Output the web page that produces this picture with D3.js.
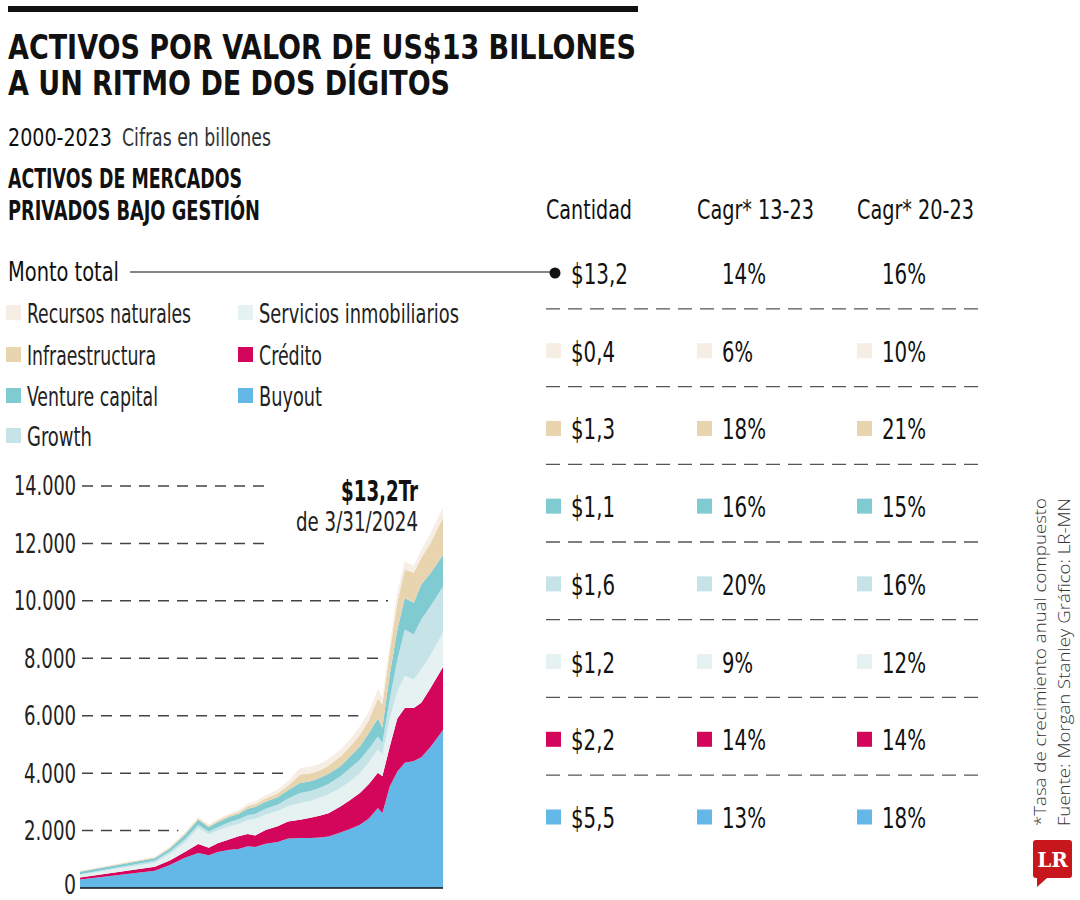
<!DOCTYPE html>
<html><head><meta charset="utf-8">
<script src="https://cdn.jsdelivr.net/npm/d3@7"></script>
<style>
body{margin:0;background:#fff}
svg{display:block}
text{font-family:"Liberation Sans Narrow","DejaVu Sans Condensed","Roboto",sans-serif;fill:#111}
</style>
</head><body>
<svg id="c" width="1080" height="900"></svg>
<script>
// ---------- DATA ----------
const dates = [2000.0,2005.0,2006.0,2007.0,2007.9,2008.6,2009.2,2010.0,2010.6,2011.2,2011.7,2012.4,2013.2,2013.9,2014.7,2015.4,2016.0,2016.6,2017.4,2018.0,2018.7,2019.3,2019.9,2020.2,2020.7,2021.2,2021.7,2022.3,2022.8,2023.4,2024.25];
const buyout   = [300,600,800,1050,1220,1140,1250,1330,1360,1450,1430,1540,1600,1720,1740,1740,1760,1790,1930,2050,2200,2420,2790,2610,3540,4060,4360,4420,4550,4900,5500];
const credito  = [70,140,160,200,310,260,310,370,440,430,400,480,550,600,640,710,760,810,910,1000,1110,1200,1220,1280,1400,1840,1910,1850,1900,2050,2200];
const inmobiliarios = [80,140,220,330,560,460,440,450,430,480,570,540,530,530,580,580,630,660,640,650,690,760,810,760,960,950,1110,990,1160,1150,1200];
const growth   = [30,70,90,110,110,110,120,150,160,170,180,200,220,270,350,350,330,360,410,450,470,470,460,400,700,1100,1620,1570,1740,1700,1600];
const venture  = [90,90,100,160,180,150,170,180,190,230,240,240,260,280,350,340,350,360,350,400,460,550,620,540,850,1050,1100,1100,1220,1150,1100];
const infra    = [15,30,40,40,40,50,50,60,70,90,100,120,130,160,290,280,260,280,340,350,410,450,700,800,800,950,990,1050,930,1050,1300];
const recursos = [15,20,30,50,50,40,50,60,70,90,100,110,130,160,230,230,230,240,240,250,290,300,330,240,300,350,290,230,280,350,350];

const seriesKeys   = ["Buyout","Crédito","Servicios inmobiliarios","Growth","Venture capital","Infraestructura","Recursos naturales"];
const seriesColors = ["#63b8e7","#d4065c","#e6f2f1","#c6e4e7","#80cad2","#e8d4ae","#f6eee4"];
const yTicks = [0,2000,4000,6000,8000,10000,12000,14000];

// table (order: total, recursos, infra, venture, growth, inmobiliarios, crédito, buyout)
const rowKeys     = ["Monto total","Recursos naturales","Infraestructura","Venture capital","Growth","Servicios inmobiliarios","Crédito","Buyout"];
const cantidad    = ["$13,2","$0,4","$1,3","$1,1","$1,6","$1,2","$2,2","$5,5"];
const cagr1323    = ["14%","6%","18%","16%","20%","9%","14%","13%"];
const cagr2023    = ["16%","10%","21%","15%","16%","12%","14%","18%"];
const headers     = ["Cantidad","Cagr* 13-23","Cagr* 20-23"];

// ---------- SETUP ----------
const svg = d3.select("#c");
const colorOf = d3.scaleOrdinal().domain(seriesKeys).range(seriesColors);
const fmt = d3.formatLocale({decimal:",",thousands:".",grouping:[3],currency:["$",""]}).format(",");

function txt(g, x, y, s, o={}) {
  const t = g.append("text").attr("x", x).attr("y", y).text(s)
    .style("font-size", (o.size||26)+"px")
    .style("font-weight", o.bold ? "700" : "400")
    .attr("text-anchor", o.anchor || "start");
  if (o.fill) t.style("fill", o.fill);
  if (o.family) t.style("font-family", o.family);
  if (o.w) t.attr("textLength", o.w).attr("lengthAdjust", "spacingAndGlyphs");
  return t;
}

// top rule
svg.append("rect").attr("x", 8).attr("y", 6).attr("width", 630).attr("height", 6).attr("fill", "#111");

// titles
txt(svg, 8, 59, "ACTIVOS POR VALOR DE US$13 BILLONES", {size:34, bold:true, w:628});
txt(svg, 8, 95, "A UN RITMO DE DOS DÍGITOS", {size:34, bold:true, w:442});
txt(svg, 8, 146, "2000-2023", {size:25, w:104});
txt(svg, 122, 146, "Cifras en billones", {size:25, w:149, fill:"#333"});
txt(svg, 8, 188, "ACTIVOS DE MERCADOS", {size:27, bold:true, w:234});
txt(svg, 8, 220, "PRIVADOS BAJO GESTIÓN", {size:27, bold:true, w:252});

// table headers
const colX = [546, 697, 857];
const headW = [86, 117, 117];
headers.forEach((h, i) => txt(svg, colX[i], 219, h, {size:27, w:headW[i]}));

// Monto total
txt(svg, 8, 281, "Monto total", {size:27, w:111});
svg.append("line").attr("x1", 130).attr("x2", 552).attr("y1", 272).attr("y2", 272).attr("stroke", "#111").attr("stroke-width", 1.2);
svg.append("circle").attr("cx", 555).attr("cy", 273).attr("r", 5.5).attr("fill", "#111");

// table rows
const rowY = d3.scaleLinear().domain([0, 7]).range([273, 817]);
const swColor = k => k === "Monto total" ? null : colorOf(k);
const charW = ch => ch === "$" ? 12 : ch === "," ? 6 : ch === "%" ? 18 : 13;
rowKeys.forEach((k, i) => {
  const cy = rowY(i);
  const vals = [cantidad[i], cagr1323[i], cagr2023[i]];
  vals.forEach((v, j) => {
    const c = swColor(k);
    if (c) svg.append("rect").attr("x", colX[j]).attr("y", cy - 7.5).attr("width", 15).attr("height", 15).attr("fill", c);
    const w = Array.from(v).reduce((a, ch) => a + charW(ch), 0);
    txt(svg, colX[j] + 25, cy + 11, v, {size:28, w: w});
  });
  if (i < 7) {
    const ly = (rowY(i) + rowY(i + 1)) / 2 - 3;
    svg.append("line").attr("x1", 546).attr("x2", 980).attr("y1", ly).attr("y2", ly)
      .attr("stroke", "#555").attr("stroke-width", 1.3).attr("stroke-dasharray", "14,8");
  }
});

// legend
const legendItems = [
  {k:"Recursos naturales", x:6, y:313, w:164},
  {k:"Infraestructura", x:6, y:355, w:129},
  {k:"Venture capital", x:6, y:396, w:131},
  {k:"Growth", x:6, y:436, w:65},
  {k:"Servicios inmobiliarios", x:238, y:313, w:200},
  {k:"Crédito", x:238, y:355, w:63},
  {k:"Buyout", x:238, y:396, w:63}
];
legendItems.forEach(d => {
  svg.append("rect").attr("x", d.x).attr("y", d.y - 8).attr("width", 15).attr("height", 15).attr("fill", colorOf(d.k));
  txt(svg, d.x + 21, d.y + 10, d.k, {size:27, w:d.w, fill:"#222"});
});

// ---------- CHART ----------
const x = d3.scaleLinear().domain([2000, 2024.25]).range([80, 443]);
const y = d3.scaleLinear().domain([0, 14000]).range([888, 486]);

const table = dates.map((d, i) => ({
  date: d,
  "Buyout": buyout[i], "Crédito": credito[i], "Servicios inmobiliarios": inmobiliarios[i],
  "Growth": growth[i], "Venture capital": venture[i], "Infraestructura": infra[i], "Recursos naturales": recursos[i]
}));
const stack = d3.stack().keys(seriesKeys)(table);
const totals = stack[stack.length - 1].map(p => p[1]);

// gridlines end shortly before the area (and before the label block)
function crossX(v) {
  for (let i = 0; i < totals.length - 1; i++) {
    if (totals[i] < v && totals[i + 1] >= v) {
      const f = (v - totals[i]) / (totals[i + 1] - totals[i]);
      return x(dates[i] + f * (dates[i + 1] - dates[i]));
    }
  }
  return x(2024.25);
}
const gg = svg.append("g");
yTicks.filter(v => v > 0).forEach(v => {
  let end = crossX(v) - 8;
  if (y(v) < 545) end = Math.min(end, 268);
  gg.append("line").attr("x1", 82).attr("x2", end).attr("y1", y(v)).attr("y2", y(v))
    .attr("stroke", "#444").attr("stroke-width", 1.5).attr("stroke-dasharray", "11,8");
});

const area = d3.area().x((d, i) => x(dates[i])).y0(d => y(d[0])).y1(d => y(d[1])).curve(d3.curveLinear);
svg.append("g").selectAll("path").data(stack).join("path")
  .attr("d", area).attr("fill", d => colorOf(d.key));

// axis
const yAxis = d3.axisLeft(y).tickValues(yTicks).tickSize(0).tickPadding(4).tickFormat(d => fmt(d));
const ag = svg.append("g").attr("transform", "translate(80,0)").call(yAxis);
ag.select(".domain").remove();
ag.selectAll("text").style("font-size", "27px").style("font-family", '"Liberation Sans Narrow","DejaVu Sans Condensed",sans-serif')
  .style("fill", "#222").attr("dy", d => d === 0 ? "0.22em" : "0.33em")
  .attr("textLength", d => d === 0 ? 12 : (d >= 10000 ? 62 : 52)).attr("lengthAdjust", "spacingAndGlyphs");
svg.append("line").attr("x1", 80).attr("x2", 443).attr("y1", 888).attr("y2", 888).attr("stroke", "#111").attr("stroke-width", 1.6);

// annotation
txt(svg, 418, 501, "$13,2Tr", {size:28, bold:true, anchor:"end", w:77});
txt(svg, 418, 531, "de 3/31/2024", {size:27, anchor:"end", w:122, fill:"#222"});

// ---------- SOURCE / LOGO ----------
const src = [["*Tasa de crecimiento anual compuesto", 1046], ["Fuente: Morgan Stanley  Gráfico: LR-MN", 1070]];
src.forEach(([s, xx]) => {
  svg.append("text").attr("transform", `translate(${xx},826) rotate(-90)`).text(s)
    .style("font-family", '"Open Sans",sans-serif').style("font-weight", "300")
    .style("font-size", "17px").style("fill", "#333")
    .attr("textLength", 328).attr("lengthAdjust", "spacingAndGlyphs");
});
svg.append("path").attr("d", "M1036,840 h33 a3,3 0 0 1 3,3 v32 a3,3 0 0 1 -3,3 h-22 l-10,9 v-9 h-1 a3,3 0 0 1 -3,-3 v-32 a3,3 0 0 1 3,-3 z").attr("fill", "#c8161d");
svg.append("text").attr("x", 1052.5).attr("y", 867).attr("text-anchor", "middle").text("LR")
  .style("font-family", '"DejaVu Serif","Liberation Serif",serif').style("font-weight", "700")
  .style("font-size", "20px").style("fill", "#fff");
</script>
</body></html>
